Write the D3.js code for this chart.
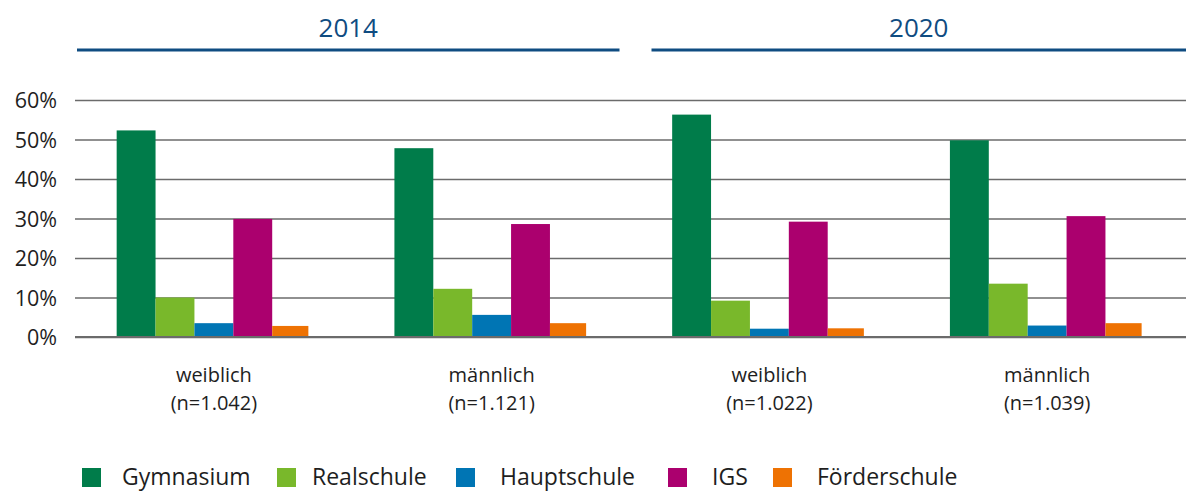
<!DOCTYPE html>
<html>
<head>
<meta charset="utf-8">
<script src="https://cdn.jsdelivr.net/npm/d3@7"></script>
<style>
  body { margin: 0; background: #fff; }
  text { font-family: "Open Sans", "Noto Sans", sans-serif; fill: #1e1e1e; }
</style>
</head>
<body>
<div id="chart"></div>
<script>
// data
var years = ["2014", "2020"];
var groups = ["2014 weiblich", "2014 männlich", "2020 weiblich", "2020 männlich"];
var groupLabels = ["weiblich", "männlich", "weiblich", "männlich"];
var groupN = ["(n=1.042)", "(n=1.121)", "(n=1.022)", "(n=1.039)"];
var schools = ["Gymnasium", "Realschule", "Hauptschule", "IGS", "Förderschule"];
var colors = ["#007c4a", "#79b82b", "#0075b4", "#ab006e", "#ee7203"];
var gymnasium = [52.3, 47.8, 56.3, 49.8];
var realschule = [10.0, 12.2, 9.2, 13.5];
var hauptschule = [3.5, 5.6, 2.1, 2.9];
var igs = [29.9, 28.6, 29.2, 30.6];
var foerderschule = [2.8, 3.5, 2.2, 3.5];
var series = [gymnasium, realschule, hauptschule, igs, foerderschule];
var yTicks = [0, 10, 20, 30, 40, 50, 60];

var width = 1186, height = 491;
var mLeft = 75, mRight = 1186, mTop = 100, mBottom = 337;

var svg = d3.select("#chart").append("svg").attr("width", width).attr("height", height);

var x0 = d3.scaleBand().domain(groups).range([mLeft, mRight]).paddingInner(0.3).paddingOuter(0.15);
var x1 = d3.scaleBand().domain(schools).range([0, x0.bandwidth()]);
var y = d3.scaleLinear().domain([0, 60]).range([mBottom, mTop]);
var color = d3.scaleOrdinal().domain(schools).range(colors);

// gridlines + y labels
var yAxis = d3.axisLeft(y).tickValues(yTicks).tickSize(-(mRight - mLeft)).tickFormat(function(d) { return d + "%"; });
var gy = svg.append("g").attr("transform", "translate(" + mLeft + ",0)").call(yAxis);
gy.select(".domain").remove();
gy.selectAll(".tick line").attr("stroke", "#6b6b6b").attr("stroke-width", 1.6);
gy.selectAll(".tick text").attr("x", -18).attr("dy", "0.36em").style("font-size", "21.5px")
  .style("font-family", "'Open Sans', sans-serif").attr("fill", "#1e1e1e");

// bars
var g = svg.append("g").selectAll("g").data(groups).enter().append("g")
  .attr("transform", function(d) { return "translate(" + x0(d) + ",0)"; });
g.selectAll("rect").data(function(d, i) {
    return schools.map(function(s, j) { return {school: s, value: series[j][i], last: j == schools.length - 1}; });
  }).enter().append("rect")
  .attr("x", function(d) { return x1(d.school); })
  .attr("width", function(d) { return d.last ? x1.bandwidth() * 0.93 : x1.bandwidth(); })
  .attr("y", function(d) { return y(d.value); })
  .attr("height", function(d) { return y(0) - y(d.value); })
  .attr("fill", function(d) { return color(d.school); });

// zero line on top
svg.append("line").attr("x1", mLeft).attr("x2", mRight).attr("y1", y(0)).attr("y2", y(0))
  .attr("stroke", "#6b6b6b").attr("stroke-width", 1.8);

// x labels
var xl = svg.append("g").selectAll("text").data(groups).enter().append("text")
  .attr("text-anchor", "middle")
  .style("font-size", "20px");
xl.append("tspan").attr("y", 382).attr("x", function(d) { return x0(d) + x0.bandwidth() / 2; })
  .text(function(d, i) { return groupLabels[i]; });
xl.append("tspan").attr("y", 410).attr("x", function(d) { return x0(d) + x0.bandwidth() / 2; })
  .text(function(d, i) { return groupN[i]; });

// year headers
var mid = mLeft + (mRight - mLeft) / 2;
var yearSpan = [[mLeft + 2, mid - 11], [mid + 21, mRight]];
years.forEach(function(yr, i) {
  var s = yearSpan[i];
  svg.append("line").attr("x1", s[0]).attr("x2", s[1]).attr("y1", 50).attr("y2", 50)
    .attr("stroke", "#0f4c81").attr("stroke-width", 3);
  svg.append("text").attr("x", (s[0] + s[1]) / 2).attr("y", 37).attr("text-anchor", "middle")
    .style("font-size", "26px").style("fill", "#0f4c81").text(yr);
});

// legend
var legendX = [82, 277, 456, 668, 773];
var lg = svg.append("g").selectAll("g").data(schools).enter().append("g")
  .attr("transform", function(d, i) { return "translate(" + legendX[i] + ",468)"; });
lg.append("rect").attr("width", 19).attr("height", 19).attr("fill", function(d) { return color(d); });
lg.append("text").attr("x", function(d, i) { return i == 0 ? 40 : (i == 1 ? 35 : 44); }).attr("y", 17)
  .style("font-size", "23px").text(function(d) { return d; });
</script>
</body>
</html>
